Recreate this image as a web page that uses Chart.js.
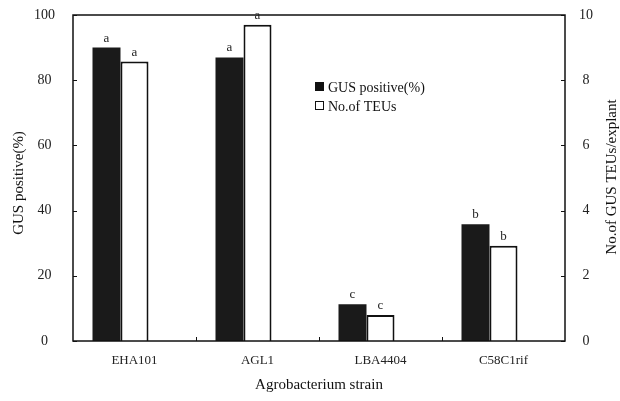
<!DOCTYPE html>
<html>
<head>
<meta charset="utf-8">
<script src="https://cdn.jsdelivr.net/npm/chart.js@4"></script>
<style>
  html, body { margin: 0; padding: 0; background: #fff; }
  #wrap { width: 620px; height: 401px; }
</style>
</head>
<body>
<div id="wrap"><canvas id="myChart" width="620" height="401"></canvas></div>
<script>
// data
const strains = ['EHA101', 'AGL1', 'LBA4404', 'C58C1rif'];
const gusPositive = [90, 87, 11.3, 35.8];      // left axis, %
const teuPerExplant = [8.57, 9.7, 0.8, 2.92];  // right axis
const gusLetters = ['a', 'a', 'c', 'b'];
const teuLetters = ['a', 'a', 'c', 'b'];
const spacer = [null, null, null, null];       // empty slot so the pair sits left of centre

const leftTitle = 'GUS positive(%)';
const rightTitle = 'No.of GUS TEUs/explant';

const serif = 'Liberation Serif';

// frame, inward tick marks, significance letters, legend and y titles
const framePlugin = {
    id: 'frame',
    afterDatasetsDraw(chart) {
        const ctx = chart.ctx;
        const a = chart.chartArea;
        const x = chart.scales.x, y = chart.scales.y, y1 = chart.scales.y1;
        ctx.save();
        ctx.strokeStyle = '#111';
        ctx.lineWidth = 1.5;
        ctx.strokeRect(a.left, a.top, a.right - a.left, a.bottom - a.top);

        ctx.lineWidth = 1;
        ctx.beginPath();
        y.ticks.forEach((t, i) => {
            const py = Math.round(y.getPixelForTick(i)) + 0.5;
            ctx.moveTo(a.left, py); ctx.lineTo(a.left + 4, py);
        });
        y1.ticks.forEach((t, i) => {
            const py = Math.round(y1.getPixelForTick(i)) + 0.5;
            ctx.moveTo(a.right, py); ctx.lineTo(a.right - 4, py);
        });
        for (let i = 1; i < strains.length; i++) {
            const px = Math.round((x.getPixelForValue(i - 1) + x.getPixelForValue(i)) / 2) + 0.5;
            ctx.moveTo(px, a.bottom); ctx.lineTo(px, a.bottom - 4);
        }
        ctx.stroke();

        ctx.fillStyle = '#222';
        ctx.font = '13px "' + serif + '"';
        ctx.textAlign = 'center';
        ctx.textBaseline = 'bottom';
        [[0, gusLetters], [1, teuLetters]].forEach(([di, letters]) => {
            chart.getDatasetMeta(di).data.forEach((bar, i) => {
                ctx.fillText(letters[i], bar.x, bar.y - 3);
            });
        });

        // legend inside the plot
        const lx = 315, ly = 82;
        ctx.textAlign = 'left';
        ctx.textBaseline = 'middle';
        ctx.font = '14px "' + serif + '"';
        ctx.fillStyle = '#111';
        ctx.fillRect(lx, ly, 9, 9);
        ctx.fillText(chart.data.datasets[0].label, lx + 13, ly + 6);
        ctx.lineWidth = 1;
        ctx.strokeStyle = '#111';
        ctx.strokeRect(lx + 0.5, ly + 19.5, 8, 8);
        ctx.fillText(chart.data.datasets[1].label, lx + 13, ly + 25);

        // both y titles read bottom to top
        ctx.font = '15px "' + serif + '"';
        ctx.textAlign = 'center';
        ctx.textBaseline = 'middle';
        [[19, 183, leftTitle], [612, 177, rightTitle]].forEach(([tx, ty, txt]) => {
            ctx.save();
            ctx.translate(tx, ty);
            ctx.rotate(-Math.PI / 2);
            ctx.fillText(txt, 0, 0);
            ctx.restore();
        });
        ctx.restore();
    }
};

const ctx = document.getElementById('myChart').getContext('2d');
const myChart = new Chart(ctx, {
    type: 'bar',
    data: {
        labels: strains,
        datasets: [{
            label: 'GUS positive(%)',
            data: gusPositive,
            yAxisID: 'y',
            backgroundColor: '#1a1a1a',
            borderWidth: 0
        }, {
            label: 'No.of TEUs',
            data: teuPerExplant,
            yAxisID: 'y1',
            backgroundColor: '#fff',
            borderColor: '#111',
            borderWidth: 2
        }, {
            label: '',
            data: spacer,
            yAxisID: 'y',
            backgroundColor: 'rgba(0,0,0,0)'
        }]
    },
    options: {
        responsive: false,
        devicePixelRatio: 1,
        animation: false,
        categoryPercentage: 0.683,
        barPercentage: 1,
        layout: { padding: { top: 15, right: 0, left: 0, bottom: 0 } },
        plugins: {
            legend: { display: false },
            tooltip: { enabled: false }
        },
        scales: {
            x: {
                grid: { display: false },
                border: { display: false },
                ticks: { color: '#222', padding: 4, font: { family: serif, size: 13 } },
                title: {
                    display: true,
                    text: 'Agrobacterium strain',
                    color: '#111',
                    padding: { top: 0, bottom: 7 },
                    font: { family: serif, size: 15 }
                },
                afterFit: (scale) => { scale.height = 60; }
            },
            y: {
                position: 'left',
                min: 0,
                max: 100,
                ticks: { stepSize: 20, color: '#222', padding: 10, crossAlign: 'center', font: { family: serif, size: 14 } },
                grid: { display: false },
                border: { display: false },
                afterFit: (scale) => { scale.width = 73; scale.paddingTop = 0; scale.paddingBottom = 0; }
            },
            y1: {
                position: 'right',
                min: 0,
                max: 10,
                ticks: { stepSize: 2, color: '#222', padding: 6, crossAlign: 'center', font: { family: serif, size: 14 } },
                grid: { display: false },
                border: { display: false },
                afterFit: (scale) => { scale.width = 55; scale.paddingTop = 0; scale.paddingBottom = 0; }
            }
        }
    },
    plugins: [framePlugin]
});
</script>
</body>
</html>
